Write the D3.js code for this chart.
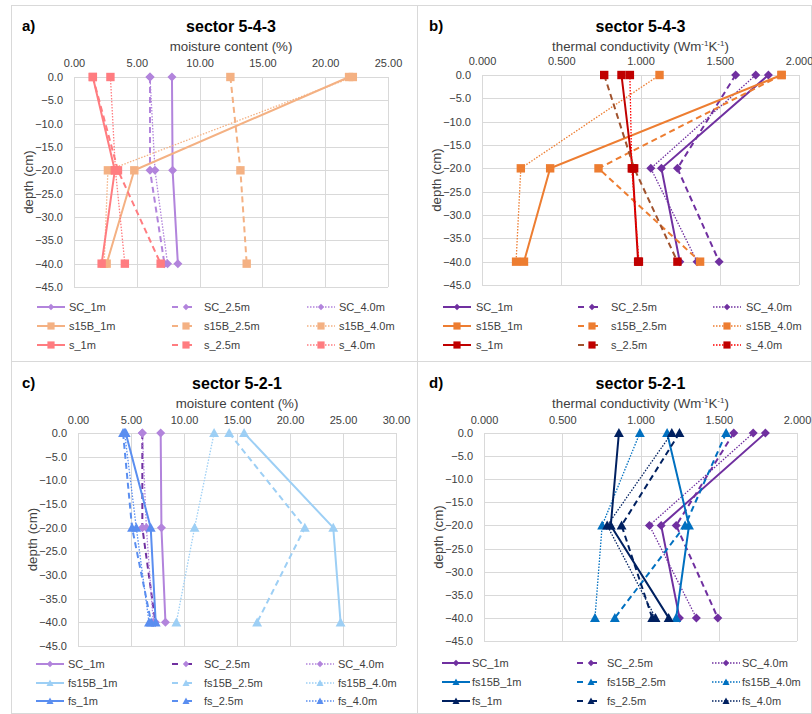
<!DOCTYPE html>
<html>
<head>
<meta charset="utf-8">
<script src="https://cdn.jsdelivr.net/npm/d3@7"></script>
<style>
  body { margin: 0; background: #fff; }
  svg { font-family: Arial, "Liberation Sans", sans-serif; }
</style>
</head>
<body>
<svg id="chart" width="812" height="714"></svg>
<script>
// depth of each measurement (cm)
var depths = [0, -20, -40];
var depthTicks = [0, -5, -10, -15, -20, -25, -30, -35, -40, -45];

var names543 = ["SC_1m", "SC_2.5m", "SC_4.0m", "s15B_1m", "s15B_2.5m", "s15B_4.0m", "s_1m", "s_2.5m", "s_4.0m"];
var names521 = ["SC_1m", "SC_2.5m", "SC_4.0m", "fs15B_1m", "fs15B_2.5m", "fs15B_4.0m", "fs_1m", "fs_2.5m", "fs_4.0m"];

// values at 0, -20, -40 cm, one row per series
var moisture543 = [
  [7.8, 7.85, 8.27],
  [6.05, 6.05, 7.2],
  [6.05, 6.45, 7.45],
  [21.9, 4.8, 2.6],
  [12.45, 13.25, 13.75],
  [22.2, 2.7, 2.4],
  [1.5, 3.25, 2.2],
  [1.5, 3.5, 6.9],
  [2.9, 3.3, 4.05]
];
var conductivity543 = [
  [1.807, 1.132, 1.248],
  [1.60, 1.233, 1.496],
  [1.727, 1.065, 1.357],
  [1.89, 0.43, 0.265],
  [1.89, 0.735, 1.376],
  [1.12, 0.245, 0.215],
  [0.88, 0.95, 0.985],
  [0.771, 0.96, 1.233],
  [0.933, 0.945, 0.99]
];
var moisture521 = [
  [7.8, 7.87, 8.25],
  [6.07, 6.07, 7.3],
  [6.07, 6.45, 7.1],
  [15.67, 24.08, 24.77],
  [14.26, 21.4, 16.9],
  [12.84, 11.0, 9.28],
  [4.5, 6.86, 7.33],
  [4.25, 5.1, 6.9],
  [4.4, 5.5, 6.7]
];
var conductivity521 = [
  [1.798, 1.132, 1.249],
  [1.596, 1.228, 1.494],
  [1.72, 1.057, 1.357],
  [1.17, 1.31, 1.228],
  [1.547, 1.285, 0.836],
  [0.996, 0.755, 0.709],
  [0.862, 0.81, 1.18],
  [1.249, 0.879, 1.075],
  [1.2, 0.787, 1.096]
];

var moistureTicks543 = [0, 5, 10, 15, 20, 25];
var moistureTicks521 = [0, 5, 10, 15, 20, 25, 30];
var conductivityTicks = [0, 0.5, 1, 1.5, 2];

var svg = d3.select("svg#chart");

// panel frames
var frames = [[11, 5, 406, 356], [417, 5, 394, 356], [11, 361, 406, 352], [417, 361, 394, 352]];
svg.selectAll("rect.frame")
    .data(frames)
  .enter().append("rect")
    .attr("class", "frame")
    .attr("x", function(d) { return d[0] + 0.5; })
    .attr("y", function(d) { return d[1] + 0.5; })
    .attr("width", function(d) { return d[2]; })
    .attr("height", function(d) { return d[3]; })
    .attr("fill", "none")
    .attr("stroke", "#d9d9d9");

var dashes = [null, "6,4", "1.5,1.5"];

function markerPath(type, s) {
  if (type == "diamond") return "M0," + (-s) + "L" + s + ",0L0," + s + "L" + (-s) + ",0Z";
  if (type == "square") return "M" + (-s) + "," + (-s) + "h" + (2 * s) + "v" + (2 * s) + "h" + (-2 * s) + "Z";
  return "M0," + (-s * 1.1) + "L" + (s * 1.1) + "," + (s * 0.9) + "L" + (-s * 1.1) + "," + (s * 0.9) + "Z";
}

function drawPanel(p) {
  var g = svg.append("g");
  var x = d3.scaleLinear().domain(p.xDomain).range([p.left, p.right]);
  var y = d3.scaleLinear().domain([0, -45]).range([p.top, p.bottom]);

  // grid
  g.selectAll("line.vgrid")
      .data(p.xTicks)
    .enter().append("line")
      .attr("x1", function(d) { return Math.round(x(d)) + 0.5; })
      .attr("x2", function(d) { return Math.round(x(d)) + 0.5; })
      .attr("y1", p.top).attr("y2", p.bottom)
      .attr("stroke", "#d9d9d9");
  g.selectAll("line.hgrid")
      .data(depthTicks)
    .enter().append("line")
      .attr("y1", function(d) { return Math.round(y(d)) + 0.5; })
      .attr("y2", function(d) { return Math.round(y(d)) + 0.5; })
      .attr("x1", p.left).attr("x2", p.right)
      .attr("stroke", "#d9d9d9");

  // axes
  var ax = g.append("g")
      .attr("transform", "translate(0," + p.top + ")")
      .call(d3.axisTop(x).tickValues(p.xTicks).tickFormat(d3.format(p.xFormat)).tickSize(0).tickPadding(p.xPad));
  var ay = g.append("g")
      .attr("transform", "translate(" + p.left + ",0)")
      .call(d3.axisLeft(y).tickValues(depthTicks).tickFormat(d3.format(".1f")).tickSize(0).tickPadding(11));
  [ax, ay].forEach(function(a) {
    a.select(".domain").remove();
    a.selectAll("text").attr("fill", "#404040").style("font-size", "11px").style("font-family", "Arial, 'Liberation Sans', sans-serif");
  });

  // titles
  g.append("text")
      .attr("x", p.panelX).attr("y", p.titleY)
      .style("font-size", "15px").style("font-weight", "bold")
      .text(p.label);
  g.append("text")
      .attr("x", (p.left + p.right) / 2).attr("y", p.titleY + 1)
      .attr("text-anchor", "middle")
      .style("font-size", "16px").style("font-weight", "bold")
      .text(p.title);
  var at = g.append("text")
      .attr("x", (p.left + p.right) / 2).attr("y", p.titleY + 20)
      .attr("text-anchor", "middle")
      .attr("fill", "#404040")
      .style("font-size", "13.3px");
  if (p.unit) {
    at.append("tspan").text("thermal conductivity (Wm");
    at.append("tspan").attr("dy", -5).style("font-size", "8px").text("-1");
    at.append("tspan").attr("dy", 5).text("K");
    at.append("tspan").attr("dy", -5).style("font-size", "8px").text("-1");
    at.append("tspan").attr("dy", 5).text(")");
  } else {
    at.text("moisture content (%)");
  }
  g.append("text")
      .attr("transform", "translate(" + p.depthX + "," + (p.top + p.bottom) / 2 + ") rotate(-90)")
      .attr("text-anchor", "middle")
      .attr("fill", "#404040")
      .style("font-size", "13.3px")
      .text("depth (cm)");

  var line = d3.line()
      .x(function(d) { return x(d[0]); })
      .y(function(d) { return y(d[1]); });

  // series, in order, markers over their own line
  p.values.forEach(function(vals, i) {
    var pts = vals.map(function(v, j) { return [v, depths[j]]; });
    var type = i < 3 ? "diamond" : p.marker;
    var size = type == "diamond" ? 4.5 : (type == "square" ? 4.2 : 4.5);
    g.append("path")
        .datum(pts)
        .attr("d", line)
        .attr("fill", "none")
        .attr("stroke", p.lineColors[i])
        .attr("stroke-width", i % 3 == 2 ? 1.3 : 2)
        .attr("stroke-dasharray", dashes[i % 3]);
    g.selectAll("path.m" + i)
        .data(pts)
      .enter().append("path")
        .attr("class", "m" + i)
        .attr("transform", function(d) { return "translate(" + x(d[0]) + "," + y(d[1]) + ")"; })
        .attr("d", markerPath(type, size))
        .attr("fill", p.markerColors[i]);
  });

  // legend
  p.names.forEach(function(name, i) {
    var lx = p.legendX[i % 3], ly = p.legendY[Math.floor(i / 3)];
    var type = i < 3 ? "diamond" : p.marker;
    var lg = g.append("g").attr("transform", "translate(" + lx + "," + ly + ")");
    lg.append("line")
        .attr("x1", 0).attr("x2", 28)
        .attr("stroke", p.lineColors[i])
        .attr("stroke-width", i % 3 == 2 ? 1.3 : 2)
        .attr("stroke-dasharray", i % 3 == 1 ? "6,8" : dashes[i % 3]);
    lg.append("path")
        .attr("transform", "translate(14,0)")
        .attr("d", markerPath(type, type == "square" ? 3.6 : 3.2))
        .attr("fill", p.markerColors[i]);
    lg.append("text")
        .attr("x", p.legendText)
        .attr("dy", "0.35em")
        .attr("fill", "#404040")
        .style("font-size", "11px")
        .text(name);
  });
}

var lilac = "#b284dc", purple = "#7030a0";

drawPanel({
  label: "a)", title: "sector 5-4-3", names: names543, values: moisture543, marker: "square",
  xDomain: [0, 25], xTicks: moistureTicks543, xFormat: ".2f", xPad: 10,
  left: 74, right: 388, top: 77, bottom: 287, panelX: 22, titleY: 31, depthX: 33,
  legendX: [37, 172, 307], legendY: [307, 326, 345], legendText: 32,
  lineColors: [lilac, lilac, lilac, "#f4b183", "#f4b183", "#f4b183", "#ff7c80", "#ff7c80", "#ff7c80"],
  markerColors: [lilac, lilac, lilac, "#f4b183", "#f4b183", "#f4b183", "#ff7c80", "#ff7c80", "#ff7c80"]
});

drawPanel({
  label: "b)", title: "sector 5-4-3", names: names543, values: conductivity543, marker: "square", unit: true,
  xDomain: [0, 2], xTicks: conductivityTicks, xFormat: ".3f", xPad: 10,
  left: 482, right: 799, top: 75, bottom: 285, panelX: 429, titleY: 31, depthX: 441,
  legendX: [443, 578, 713], legendY: [307, 326, 345], legendText: 33,
  lineColors: [purple, purple, purple, "#ed7d31", "#ed7d31", "#ed7d31", "#c00000", "#a0522d", "#ff0000"],
  markerColors: [purple, purple, purple, "#ed7d31", "#ed7d31", "#ed7d31", "#c00000", "#c00000", "#c00000"]
});

drawPanel({
  label: "c)", title: "sector 5-2-1", names: names521, values: moisture521, marker: "triangle",
  xDomain: [0, 30], xTicks: moistureTicks521, xFormat: ".2f", xPad: 9,
  left: 78, right: 396, top: 433, bottom: 646, panelX: 22, titleY: 388, depthX: 37,
  legendX: [36, 172, 306], legendY: [664, 683, 701], legendText: 32,
  lineColors: [lilac, purple, lilac, "#9dcff5", "#9dcff5", "#9dcff5", "#5a8ef0", "#5a8ef0", "#5a8ef0"],
  markerColors: [lilac, lilac, lilac, "#9dcff5", "#9dcff5", "#9dcff5", "#5a8ef0", "#5a8ef0", "#5a8ef0"]
});

drawPanel({
  label: "d)", title: "sector 5-2-1", names: names521, values: conductivity521, marker: "triangle", unit: true,
  xDomain: [0, 2], xTicks: conductivityTicks, xFormat: ".3f", xPad: 9,
  left: 484, right: 797, top: 433, bottom: 641, panelX: 429, titleY: 388, depthX: 443,
  legendX: [442, 577, 712], legendY: [663, 682, 701], legendText: 30,
  lineColors: [purple, purple, purple, "#0070c0", "#0070c0", "#0070c0", "#002060", "#002060", "#002060"],
  markerColors: [purple, purple, purple, "#0070c0", "#0070c0", "#0070c0", "#002060", "#002060", "#002060"]
});
</script>
</body>
</html>
